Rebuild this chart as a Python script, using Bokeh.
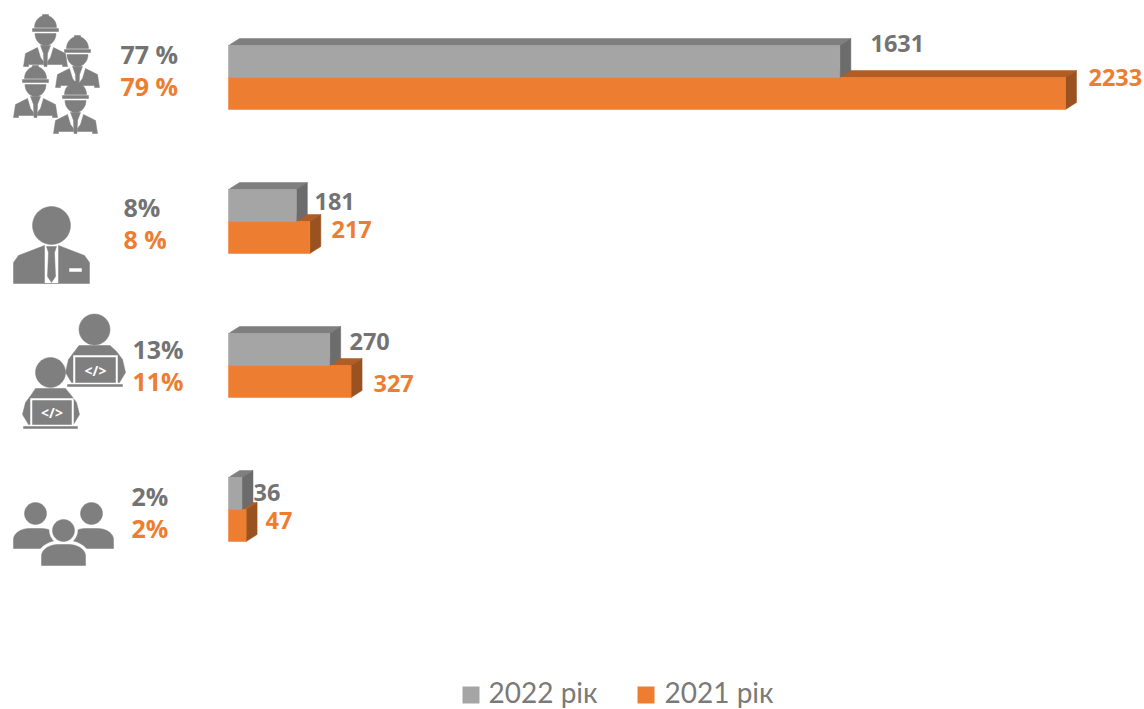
import numpy as np
from bokeh.plotting import figure
from bokeh.models import Range1d
from bokeh.core.properties import value
from bokeh.embed import file_html
from bokeh.resources import INLINE

# ---- data ----
years = ["2022 рік", "2021 рік"]
values_2022 = [1631, 181, 270, 36]
values_2021 = [2233, 217, 327, 47]
share_2022 = ["77 %", "8%", "13%", "2%"]
share_2021 = ["79 %", "8 %", "11%", "2%"]

# ---- layout ----
GREY, GREY_TOP, GREY_SIDE = "#A5A5A5", "#7F7F7F", "#6C6C6C"
ORANGE, ORANGE_TOP, ORANGE_SIDE = "#ED7D31", "#B25D24", "#9A5320"
ICON, TXT = "#7F7F7F", "#737373"
W, H = 1144, 709
PX_PER_UNIT = (1065 - 228) / 2233
X0 = 228
DX, DY = 11, 7
row_top = [45, 189, 333, 477]
BAR_H = 32
share_x = [120, 123, 132, 131]
share_y_a = [53, 206, 348, 495]
share_y_b = [85, 238, 380, 527]
val_x_a = [870, 314, 349, 253]
val_y_a = [43, 201, 341, 492]
val_x_b = [1088, 331, 373, 265]
val_y_b = [77, 229, 383, 520]

p = figure(width=W, height=H, output_backend="svg", toolbar_location=None,
           x_range=Range1d((0 - X0) / PX_PER_UNIT, (W - X0) / PX_PER_UNIT),
           y_range=Range1d(H, 0), min_border=0)
p.extra_x_ranges["px"] = Range1d(0, W)
p.axis.visible = False
p.grid.visible = False
p.outline_line_color = None
p.background_fill_color = "white"

du = 1 / PX_PER_UNIT


def bars(vals, tops, c, c_top, c_side):
    left = [0.0] * len(vals)
    bottom = [t + BAR_H for t in tops]
    xs_t = [[0, DX * du, v + DX * du, v] for v in vals]
    ys_t = [[t, t - DY, t - DY, t] for t in tops]
    xs_s = [[v, v + DX * du, v + DX * du, v] for v in vals]
    ys_s = [[t, t - DY, t + BAR_H - DY, t + BAR_H] for t in tops]
    p.patches(xs_t, ys_t, fill_color=c_top, line_color=c_top, line_width=0.5)
    p.patches(xs_s, ys_s, fill_color=c_side, line_color=c_side, line_width=0.5)
    p.quad(left=left, right=vals, top=tops, bottom=bottom, fill_color=c, line_color=c, line_width=0.5)


bars(values_2021, [t + BAR_H for t in row_top], ORANGE, ORANGE_TOP, ORANGE_SIDE)
bars(values_2022, row_top, GREY, GREY_TOP, GREY_SIDE)


def txt(xs, ys, labels, color, size, style="bold", font="Open Sans", align="left"):
    p.text(x=xs, y=ys, text=labels, x_range_name="px", text_color=color,
           text_font_size=size, text_font_style=style, text_font=value(font),
           text_align=align, text_baseline="middle")


txt(share_x, share_y_a, share_2022, TXT, "25px")
txt(share_x, share_y_b, share_2021, ORANGE, "25px")
txt(val_x_a, val_y_a, [str(v) for v in values_2022], TXT, "23.5px")
txt(val_x_b, val_y_b, [str(v) for v in values_2021], ORANGE, "23.5px")


# ---- icons (pixel space) ----
def ell(cx, cy, rx, ry=None, a0=0, a1=360):
    ry = rx if ry is None else ry
    a = np.radians(np.linspace(a0, a1, 41))
    return list(cx + rx * np.cos(a)), list(cy + ry * np.sin(a))


def shape(xy, color=ICON):
    p.patch(xy[0], xy[1], x_range_name="px", fill_color=color, line_color=color, line_width=0.5)


def poly(xs, ys, color=ICON):
    p.patch(xs, ys, x_range_name="px", fill_color=color, line_color=color, line_width=0.5)


def worker(cx, t):
    shape(ell(cx, t + 12, 11, 12, 180, 360))
    poly([cx - 3, cx + 3, cx + 3, cx - 3], [t - 1, t - 1, t + 4, t + 4])
    poly([cx - 13, cx + 13, cx + 13, cx - 13], [t + 13, t + 13, t + 16, t + 16])
    shape(ell(cx, t + 18, 10.5, 12, 0, 180))
    poly([cx - 22, cx - 20, cx - 8, cx - 5, cx - 2, cx - 2, cx - 17, cx - 17],
         [t + 51, t + 38, t + 32, t + 42, t + 46, t + 49, t + 49, t + 51])
    poly([cx + 22, cx + 20, cx + 8, cx + 5, cx + 2, cx + 2, cx + 17, cx + 17],
         [t + 51, t + 38, t + 32, t + 42, t + 46, t + 49, t + 49, t + 51])
    poly([cx - 5, cx + 5, cx + 2, cx + 1.5, cx - 1.5, cx - 2],
         [t + 30, t + 30, t + 38, t + 51, t + 51, t + 38])


for wx, wt in [(45, 15), (77, 36), (35, 66), (75, 82)]:
    worker(wx, wt)

# manager
shape(ell(51, 225, 19))
poly([13, 13, 18, 44, 44, 58, 58, 84, 89, 89],
     [283, 262, 255, 245, 283, 283, 245, 255, 262, 283])
poly([46, 56, 54, 55, 51, 47, 48], [246, 246, 252, 276, 282, 276, 252])
poly([69, 81, 81, 69], [268, 268, 271, 271], "white")


def coder(hx, hy, r, bl, br, st, lt, lr, ll, lb, bb_l, bb_r):
    shape(ell(hx, hy, r))
    poly([bl, bl + 3, bl + 9, hx - r, hx + r, br - 9, br - 3, br, br - 6, bl + 6],
         [lb - 10, st + 14, st + 6, st, st, st + 6, st + 14, lb - 10, lb, lb])
    poly([ll, lr, lr, ll], [lt, lt, lb + 1, lb + 1], "white")
    poly([ll + 2, lr - 2, lr - 2, ll + 2], [lt + 2, lt + 2, lb, lb])
    poly([bb_l, bb_r, bb_r, bb_l], [lb + 2, lb + 2, lb + 4, lb + 4])
    txt([(ll + lr) / 2], [(lt + lb) / 2 + 1], ["</>"], "white", "14px", align="center")


coder(94, 329, 15.5, 65, 125, 345, 355, 117, 73, 382, 67, 122)
coder(50, 372, 15, 22, 79, 388, 398, 73, 30, 424, 23, 77)


def body(l, r, st, b, color=ICON):
    h = b - st
    xs_l, ys_l = ell(l + h * 0.8, b - h * 0.45, h * 0.8, h * 0.55, 180, 270)
    xs_r, ys_r = ell(r - h * 0.8, b - h * 0.45, h * 0.8, h * 0.55, 270, 360)
    poly([l] + xs_l + xs_r + [r], [b] + ys_l + ys_r + [b], color)


shape(ell(35, 513, 11))
shape(ell(91, 513, 11))
body(13, 57, 528, 548)
body(69, 113, 528, 548)
body(37, 89, 540, 570, "white")
shape(ell(63, 530, 14), "white")
shape(ell(63, 530, 11))
body(41, 85, 544, 565)

# ---- legend ----
p.quad(left=[462, 637], right=[479, 654], top=[686, 686], bottom=[703, 703], x_range_name="px",
       fill_color=[GREY, ORANGE], line_color=None)
txt([488, 664], [691, 691], years, "#7A7A7A", "28px", style="normal", font="Lato")

open("out.html", "w").write(file_html(p, INLINE))
